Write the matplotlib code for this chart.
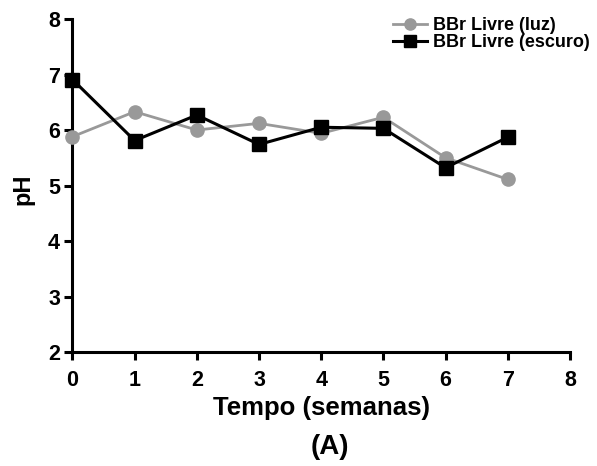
import matplotlib
matplotlib.use("Agg")
import matplotlib.pyplot as plt

plt.rcParams['font.family'] = ['Liberation Sans', 'DejaVu Sans']
plt.rcParams['font.weight'] = 'bold'

weeks = [0, 1, 2, 3, 4, 5, 6, 7]
ph_luz = [5.88, 6.33, 6.00, 6.12, 5.94, 6.23, 5.50, 5.11]
ph_escuro = [6.91, 5.81, 6.27, 5.74, 6.05, 6.03, 5.32, 5.87]
x_ticks = [0, 1, 2, 3, 4, 5, 6, 7, 8]
y_ticks = [2, 3, 4, 5, 6, 7, 8]

fig = plt.figure(figsize=(5.97, 4.66), dpi=100)
ax = fig.add_axes([0.1214, 0.2446, 0.8333, 0.7146])

ax.plot(weeks, ph_luz, color='#999999', marker='o', markersize=9.5, linewidth=2,
        label='BBr Livre (luz)', clip_on=False, zorder=3)
ax.plot(weeks, ph_escuro, color='black', marker='s', markersize=9.5, linewidth=2.2,
        label='BBr Livre (escuro)', clip_on=False, zorder=4)

ax.set_xlim(0, 8)
ax.set_ylim(2, 8)
ax.set_xticks(x_ticks)
ax.set_yticks(y_ticks)
for s in ['top', 'right']:
    ax.spines[s].set_visible(False)
for s in ['left', 'bottom']:
    ax.spines[s].set_linewidth(2.2)
ax.tick_params(width=2.2, length=6, labelsize=15.5)
ax.tick_params(axis='x', pad=7)
ax.tick_params(axis='y', pad=3)
for lab in ax.get_xticklabels() + ax.get_yticklabels():
    lab.set_fontweight('bold')

ax.set_xlabel('Tempo (semanas)', fontsize=18.5, fontweight='bold')
ax.xaxis.set_label_coords(0.5, (352 - 396) / 333.0)
ax.set_ylabel('pH', fontsize=17, fontweight='bold')
ax.yaxis.set_label_coords((34 - 72.5) / 497.5, 0.49)
fig.text(330 / 597, 1 - 447 / 466, '(A)', fontsize=20, fontweight='bold',
         ha='center', va='center')

leg = ax.legend(loc='upper left', bbox_to_anchor=(393 / 597, 1 - 17 / 466),
                bbox_transform=fig.transFigure, frameon=False,
                borderpad=0, borderaxespad=0, markerscale=0.85,
                handlelength=1.9, handletextpad=0.3, labelspacing=0.0,
                prop={'weight': 'bold', 'size': 13})

fig.savefig('out.png', dpi=100)
